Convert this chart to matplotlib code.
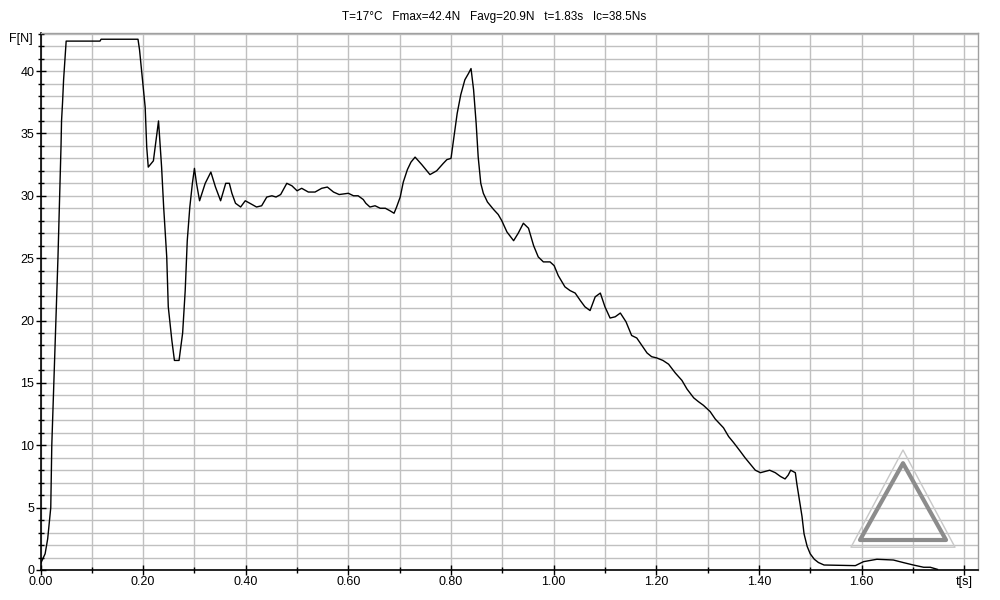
import numpy as np
import matplotlib.pyplot as plt
from matplotlib.patches import Polygon
from matplotlib.ticker import MultipleLocator, FixedLocator, FixedFormatter

# thrust curve
t = [0.000, 0.009, 0.014, 0.020, 0.022, 0.026, 0.030, 0.034, 0.038, 0.040,
     0.041, 0.043, 0.045, 0.050, 0.116, 0.118, 0.190, 0.193, 0.197, 0.204,
     0.207, 0.210, 0.220, 0.230, 0.236, 0.240, 0.246, 0.249, 0.256, 0.261,
     0.270, 0.277, 0.282, 0.286, 0.291, 0.296, 0.300, 0.304, 0.310, 0.321,
     0.332, 0.341, 0.351, 0.361, 0.368, 0.373, 0.380, 0.390, 0.399, 0.408,
     0.421, 0.431, 0.441, 0.451, 0.459, 0.468, 0.480, 0.490, 0.500, 0.509,
     0.522, 0.535, 0.548, 0.559, 0.571, 0.582, 0.600, 0.610, 0.619, 0.629,
     0.634, 0.642, 0.652, 0.662, 0.672, 0.681, 0.689, 0.694, 0.701, 0.707,
     0.715, 0.722, 0.730, 0.743, 0.759, 0.772, 0.785, 0.792, 0.800, 0.805,
     0.812, 0.819, 0.827, 0.834, 0.839, 0.844, 0.849, 0.853, 0.858, 0.863,
     0.871, 0.883, 0.892, 0.899, 0.909, 0.922, 0.931, 0.941, 0.951, 0.961,
     0.970, 0.980, 0.993, 1.001, 1.009, 1.022, 1.032, 1.042, 1.052, 1.061,
     1.071, 1.081, 1.091, 1.100, 1.110, 1.120, 1.130, 1.141, 1.152, 1.162,
     1.172, 1.182, 1.191, 1.201, 1.213, 1.224, 1.237, 1.250, 1.260, 1.273,
     1.282, 1.292, 1.305, 1.315, 1.331, 1.341, 1.351, 1.364, 1.373, 1.383,
     1.393, 1.403, 1.412, 1.421, 1.432, 1.442, 1.451, 1.457, 1.462, 1.471,
     1.474, 1.479, 1.484, 1.488, 1.494, 1.500, 1.508, 1.516, 1.527, 1.588,
     1.604, 1.630, 1.662, 1.682, 1.701, 1.721, 1.734, 1.748]
force = [0.5, 1.3, 2.5, 5.0, 10.0, 15.0, 20.0, 25.0, 31.0, 34.0,
         36.0, 37.5, 39.3, 42.4, 42.4, 42.55, 42.55, 41.7, 40.0, 37.1,
         33.9, 32.3, 32.8, 36.0, 32.3, 29.1, 25.1, 21.1, 18.4, 16.8,
         16.8, 19.0, 22.4, 26.4, 29.1, 31.0, 32.2, 31.0, 29.6, 31.0,
         31.9, 30.7, 29.6, 31.0, 31.0, 30.2, 29.4, 29.1, 29.6, 29.4,
         29.1, 29.2, 29.9, 30.0, 29.9, 30.1, 31.0, 30.8, 30.4, 30.6,
         30.3, 30.3, 30.6, 30.7, 30.3, 30.1, 30.2, 30.0, 30.0, 29.7,
         29.4, 29.1, 29.2, 29.0, 29.0, 28.8, 28.6, 29.1, 29.9, 31.1,
         32.1, 32.7, 33.1, 32.5, 31.7, 32.0, 32.6, 32.9, 33.0, 34.5,
         36.6, 38.1, 39.3, 39.8, 40.2, 38.5, 35.8, 33.1, 31.0, 30.2,
         29.5, 28.9, 28.5, 28.0, 27.1, 26.4, 27.0, 27.8, 27.4, 26.0,
         25.1, 24.7, 24.7, 24.4, 23.6, 22.7, 22.4, 22.2, 21.6, 21.1,
         20.8, 21.9, 22.2, 21.1, 20.2, 20.3, 20.6, 19.9, 18.8, 18.6,
         18.0, 17.4, 17.1, 17.0, 16.8, 16.5, 15.8, 15.2, 14.5, 13.8,
         13.5, 13.2, 12.7, 12.1, 11.4, 10.7, 10.2, 9.5, 9.0, 8.5,
         8.0, 7.8, 7.9, 8.0, 7.8, 7.5, 7.3, 7.6, 8.0, 7.8,
         6.9, 5.6, 4.3, 2.9, 1.9, 1.3, 0.86, 0.6, 0.4, 0.35,
         0.67, 0.86, 0.8, 0.59, 0.4, 0.22, 0.22, 0.05]

title = "T=17°C   Fmax=42.4N   Favg=20.9N   t=1.83s   Ic=38.5Ns"
x_major = [0.0, 0.2, 0.4, 0.6, 0.8, 1.0, 1.2, 1.4, 1.6, 1.8]
x_labels = ["0.00", "0.20", "0.40", "0.60", "0.80", "1.00", "1.20", "1.40", "1.60", "t[s]"]

plt.rcParams['font.family'] = ['Liberation Sans', 'DejaVu Sans']

fig = plt.figure(figsize=(10, 6), dpi=100)
ax = fig.add_axes([0.0405, 0.05, 0.9375, 0.895])

ax.plot(t, force, color='black', lw=1.0, zorder=3)

ax.set_xlim(0, 1.827)
ax.set_ylim(0, 43.05)

# grid every 0.1 s and every 1 N
ax.xaxis.set_major_locator(FixedLocator(x_major))
ax.xaxis.set_major_formatter(FixedFormatter(x_labels))
ax.xaxis.set_minor_locator(MultipleLocator(0.1))
ax.yaxis.set_major_locator(MultipleLocator(5))
ax.yaxis.set_minor_locator(MultipleLocator(1))
ax.grid(True, which='both', color='#c0c0c0', lw=1.0, zorder=0)

ax.tick_params(which='major', direction='inout', length=7, width=1, labelsize=9, pad=1)
ax.tick_params(which='minor', direction='inout', length=5, width=1)

for s in ['left', 'bottom']:
    ax.spines[s].set_color('black')
    ax.spines[s].set_linewidth(1.2)
for s in ['top', 'right']:
    ax.spines[s].set_color('#a0a0a0')
    ax.spines[s].set_linewidth(1.0)

ax.text(-0.008, 42.6, "F[N]", ha='right', va='center', fontsize=9,
        transform=ax.get_yaxis_transform())
fig.text(0.494, 0.972, title, ha='center', va='center', fontsize=8.5)

# faint watermark logo in the lower right corner (figure fraction)
tri = [(0.903, 0.228), (0.860, 0.100), (0.946, 0.100)]
fig.patches.append(Polygon(tri, closed=True, fill=False, ec='#8c8c8c', lw=3,
                           joinstyle='round', transform=fig.transFigure, zorder=5))
tri2 = [(0.903, 0.250), (0.851, 0.088), (0.955, 0.088)]
fig.patches.append(Polygon(tri2, closed=True, fill=False, ec='#c8c8c8', lw=1,
                           joinstyle='round', transform=fig.transFigure, zorder=5))

plt.savefig('out.png', dpi=100, facecolor='white')
